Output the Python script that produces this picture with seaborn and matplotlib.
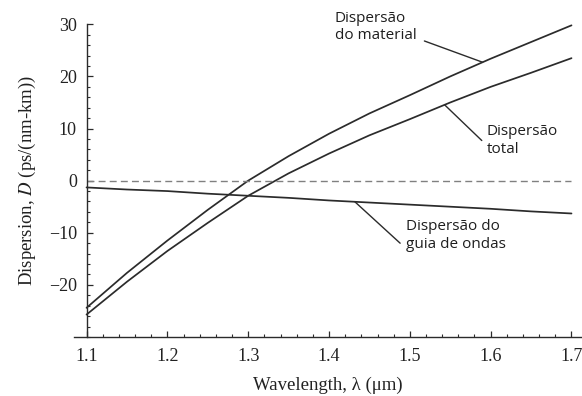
import numpy as np
import pandas as pd
import seaborn as sns
import matplotlib
matplotlib.use("Agg")
import matplotlib.pyplot as plt

# Chromatic dispersion of a standard single-mode fibre
wavelength = [1.10, 1.15, 1.20, 1.25, 1.30, 1.35, 1.40, 1.45, 1.50, 1.55, 1.60, 1.65, 1.70]
material = [-24.4, -17.7, -11.5, -5.6, 0.0, 4.7, 9.0, 12.9, 16.4, 20.0, 23.4, 26.6, 29.8]
waveguide = [-1.3, -1.7, -2.0, -2.5, -2.9, -3.3, -3.8, -4.2, -4.6, -5.0, -5.4, -5.9, -6.3]
total = [-25.7, -19.4, -13.5, -8.1, -2.9, 1.4, 5.2, 8.7, 11.8, 15.0, 18.0, 20.7, 23.5]

x_ticks = [1.1, 1.2, 1.3, 1.4, 1.5, 1.6, 1.7]
y_ticks = [-20, -10, 0, 10, 20, 30]

label_material = "Dispersão\ndo material"
label_total = "Dispersão\ntotal"
label_waveguide = "Dispersão do\nguia de ondas"

df = pd.DataFrame({
    "wavelength": wavelength * 3,
    "D": material + total + waveguide,
    "serie": ["material"] * len(wavelength) + ["total"] * len(wavelength)
             + ["guia"] * len(wavelength),
})

sns.set_style("ticks")
plt.rcParams["font.family"] = ["Liberation Serif", "DejaVu Serif"]
plt.rcParams["mathtext.fontset"] = "stix"

fig = plt.figure(figsize=(5.82, 3.96), dpi=100)
ax = fig.add_axes([74 / 582, 59 / 396, (582 - 74) / 582, (337 - 24.3) / 396])

ink = "#2b2b2b"
sns.lineplot(data=df, x="wavelength", y="D", units="serie", estimator=None,
             color=ink, linewidth=1.25, ax=ax, legend=False)

# zero reference line
ax.plot([1.1, 1.7], [0, 0], color="#808080", linewidth=1.0, dashes=(5, 3))

ax.set_xlim(1.0845, 1.713)
ax.set_ylim(-30, 30)

for s in ("top", "right"):
    ax.spines[s].set_visible(False)
ax.spines["left"].set_position(("data", 1.1))
for s in ("left", "bottom"):
    ax.spines[s].set_color(ink)
    ax.spines[s].set_linewidth(1.0)

ax.set_xticks(x_ticks)
ax.set_xticklabels([f"{t:.1f}" for t in x_ticks])
ax.set_xticks(np.arange(1.1, 1.7001, 0.02), minor=True)
ax.set_yticks(y_ticks)
ax.set_yticklabels(["\u221220", "\u221210", "0", "10", "20", "30"])
ax.set_yticks(np.arange(-30, 30.01, 2), minor=True)
ax.tick_params(axis="both", which="major", direction="in", length=4.5,
               width=0.9, color=ink, labelsize=13, labelcolor="#222222")
ax.tick_params(axis="both", which="minor", direction="in", length=2.5,
               width=0.8, color=ink)
ax.tick_params(axis="x", which="major", pad=8)
ax.tick_params(axis="y", which="major", pad=7)

ax.set_xlabel("Wavelength, \u03bb (\u03bcm)", fontsize=13.5, color="#222222", labelpad=8)
ax.set_ylabel("Dispersion, $\\mathit{D}$ (ps/(nm-km))", fontsize=13.5,
              color="#222222", labelpad=8)

# leader lines from the labels to the curves
txt_kw = dict(fontsize=11, family=["Open Sans", "DejaVu Sans"], color="#1e1e1e",
              va="top", ha="left", linespacing=1.25)
lead_kw = dict(arrowstyle="-", color=ink, lw=1.0, shrinkA=0, shrinkB=0)

x_m = 1.590
ax.annotate("", xy=(x_m, np.interp(x_m, wavelength, material)),
            xytext=(1.518, 26.8), arrowprops=lead_kw)
ax.text(1.407, 32.6, label_material, **txt_kw)

x_t = 1.543
ax.annotate("", xy=(x_t, np.interp(x_t, wavelength, total)),
            xytext=(1.589, 7.7), arrowprops=lead_kw)
ax.text(1.595, 10.9, label_total, **txt_kw)

x_w = 1.432
ax.annotate("", xy=(x_w, np.interp(x_w, wavelength, waveguide)),
            xytext=(1.488, -12.0), arrowprops=lead_kw)
ax.text(1.495, -7.4, label_waveguide, **txt_kw)

for t in ax.texts:
    t.set_clip_on(False)

fig.savefig("out.png", dpi=100)
